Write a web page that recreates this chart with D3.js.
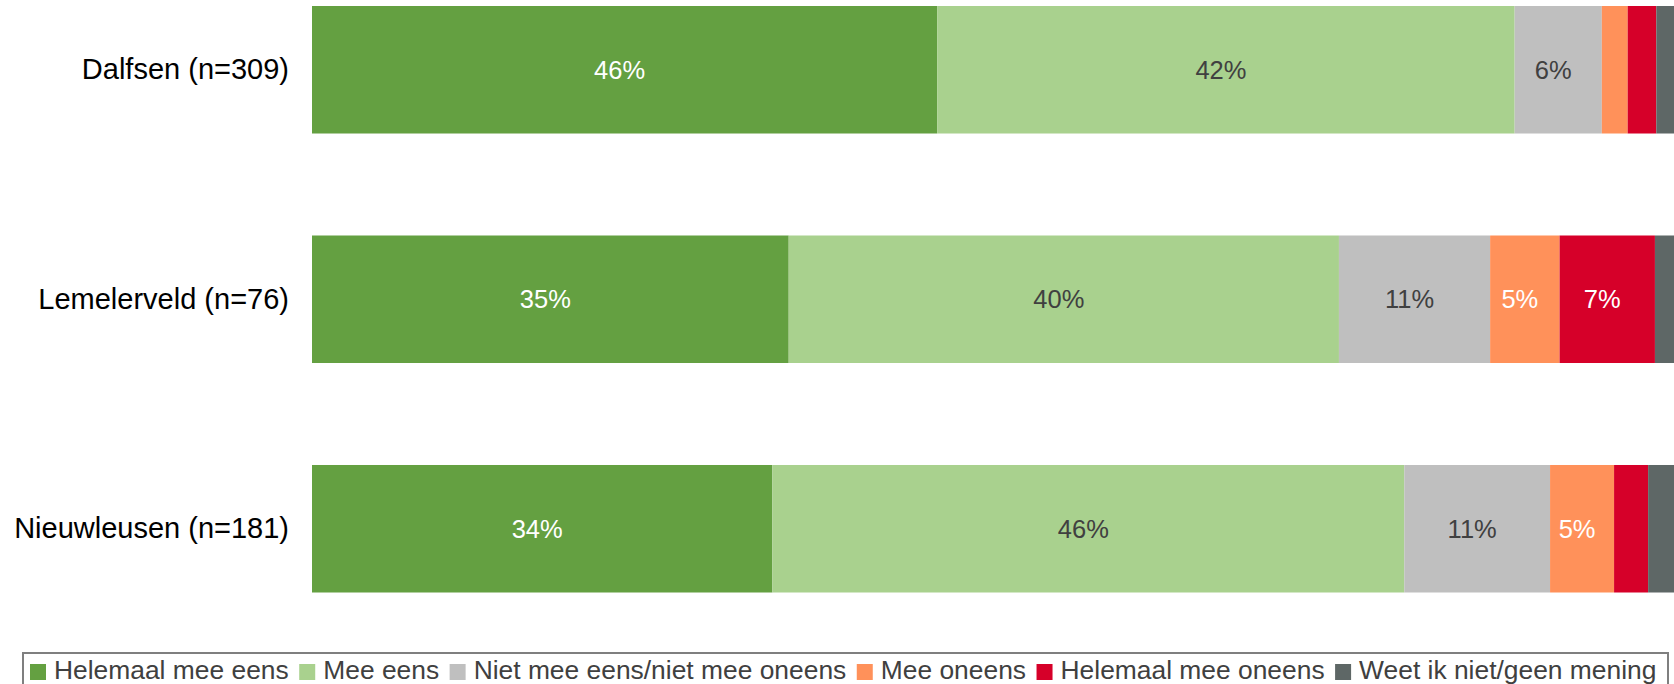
<!DOCTYPE html>
<html>
<head>
<meta charset="utf-8">
<script src="https://cdn.jsdelivr.net/npm/d3@7/dist/d3.min.js"></script>
<style>
  html, body { margin: 0; padding: 0; background: #ffffff; overflow: hidden; }
  svg { display: block; font-family: "Liberation Sans", Arial, sans-serif; }
</style>
</head>
<body>
<svg id="chart" width="1674" height="684"></svg>
<script>
// Kernen met aantal respondenten
const categories = ["Dalfsen (n=309)", "Lemelerveld (n=76)", "Nieuwleusen (n=181)"];

// Antwoordcategorieën (volgorde van stapeling)
const seriesNames = [
  "Helemaal mee eens",
  "Mee eens",
  "Niet mee eens/niet mee oneens",
  "Mee oneens",
  "Helemaal mee oneens",
  "Weet ik niet/geen mening"
];

// Percentages per antwoordcategorie, per kern
const helemaalMeeEens   = [45.9, 35.0, 33.8];
const meeEens           = [42.4, 40.4, 46.4];
const neutraal          = [6.4, 11.1, 10.7];
const meeOneens         = [1.9, 5.1, 4.7];
const helemaalOneens    = [2.1, 7.0, 2.5];
const weetNiet          = [1.3, 1.4, 1.9];

const seriesValues = [helemaalMeeEens, meeEens, neutraal, meeOneens, helemaalOneens, weetNiet];

const colors = ["#64a041", "#a9d18e", "#bfbfbf", "#ff915a", "#d60029", "#5e6766"];
const labelColors = ["#ffffff", "#404040", "#404040", "#ffffff", "#ffffff", "#ffffff"];

const rows = categories.map((c, i) => {
  const r = { cat: c };
  seriesNames.forEach((s, j) => { r[s] = seriesValues[j][i]; });
  return r;
});

const stacked = d3.stack().keys(seriesNames)(rows);

const svg = d3.select("#chart");

const x = d3.scaleLinear().domain([0, 100]).range([312, 1674]);
const y = d3.scaleBand().domain(categories).range([6, 592.5]).paddingInner(0.4444).paddingOuter(0);

// Gestapelde balken
const layers = svg.append("g").selectAll("g")
  .data(stacked)
  .join("g")
  .attr("fill", (d, i) => colors[i]);

layers.selectAll("rect")
  .data(d => d.map(p => ({ p, key: d.key, idx: d.index })))
  .join("rect")
  .attr("x", d => x(d.p[0]))
  .attr("y", d => y(d.p.data.cat))
  .attr("width", d => x(d.p[1]) - x(d.p[0]))
  .attr("height", y.bandwidth());

// Waardelabels in de segmenten
layers.selectAll("text")
  .data(d => d.map(p => ({ p, idx: d.index })).filter(d => d.p[1] - d.p[0] >= 3))
  .join("text")
  .attr("x", d => (x(d.p[0]) + x(d.p[1])) / 2)
  .attr("y", d => y(d.p.data.cat) + y.bandwidth() / 2)
  .attr("dx", -5)
  .attr("dy", "0.36em")
  .attr("text-anchor", "middle")
  .attr("font-size", 25.5)
  .attr("fill", d => labelColors[d.idx])
  .text(d => Math.round(d.p[1] - d.p[0]) + "%");

// Categorie-as
const yAxis = svg.append("g")
  .attr("transform", "translate(312,0)")
  .call(d3.axisLeft(y).tickSize(0).tickPadding(23));
yAxis.select(".domain").remove();
yAxis.selectAll("text")
  .attr("font-size", 29)
  .attr("font-family", "'Liberation Sans', Arial, sans-serif")
  .attr("fill", "#000000");

// Legenda
const legend = svg.append("g");
legend.append("rect")
  .attr("x", 23).attr("y", 653)
  .attr("width", 1645).attr("height", 60)
  .attr("fill", "#ffffff")
  .attr("stroke", "#7f7f7f")
  .attr("stroke-width", 2);

let lx = 30;
seriesNames.forEach((name, i) => {
  legend.append("rect")
    .attr("x", lx).attr("y", 664)
    .attr("width", 16).attr("height", 16)
    .attr("fill", colors[i]);
  const t = legend.append("text")
    .attr("x", lx + 24).attr("y", 679)
    .attr("font-size", 26.4)
    .attr("fill", "#404040")
    .text(name);
  lx += 24 + t.node().getComputedTextLength() + 10.5;
});
</script>
</body>
</html>
